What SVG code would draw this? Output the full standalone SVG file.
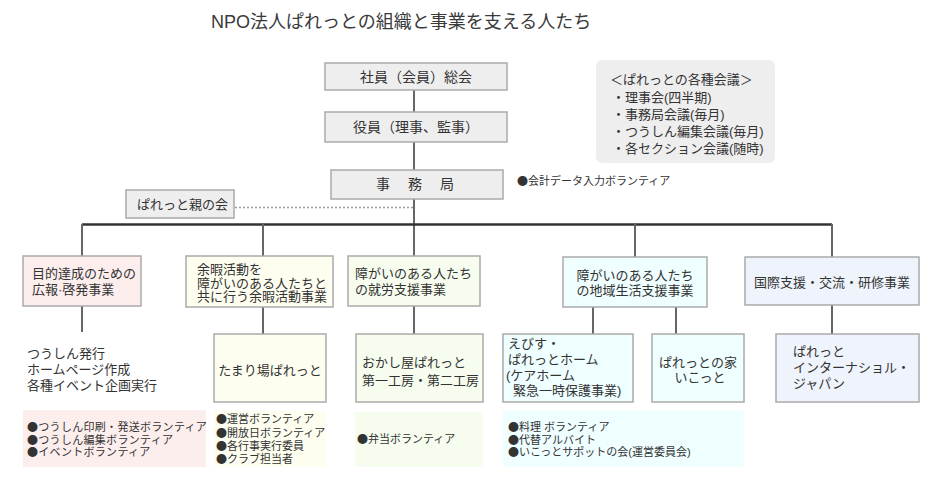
<svg xmlns="http://www.w3.org/2000/svg" width="931" height="502" viewBox="0 0 931 502">
<style>
text{font-family:"Liberation Sans","Noto Sans CJK JP",sans-serif;fill:#333;}
.b{font-family:"Noto Sans CJK JP",sans-serif;}
.t18{font-size:18px;fill:#3a3a3a;}
.t14{font-size:14px;}
.t13{font-size:13px;}
.t11{font-size:11px;}
.mid{text-anchor:middle;}
.top{fill:#eeeeee;stroke:#aaaaaa;stroke-width:1.5;}
.box{stroke:#aaaaaa;stroke-width:1.5;}
.pink{fill:#fdeeee;}
.yel{fill:#fefef0;}
.grn{fill:#f6fdee;}
.cyn{fill:#effefe;}
.lav{fill:#eff3fc;}
.ln{stroke:#666;stroke-width:2;fill:none;}
.bus{stroke:#333;stroke-width:2.5;fill:none;}
.dot{stroke:#999;stroke-width:1.5;stroke-dasharray:2 2;fill:none;}
</style>
<rect width="931" height="502" fill="#fff"/>
<text class="t18" x="211" y="28">NPO法人ぱれっとの組織と事業を支える人たち</text>

<g id="connectors">
<line class="ln" x1="414" y1="90" x2="414" y2="112"/>
<line class="ln" x1="414" y1="142" x2="414" y2="170"/>
<line class="ln" x1="414" y1="199" x2="414" y2="256"/>
<line class="dot" x1="235" y1="207.5" x2="413" y2="207.5"/>
<line class="bus" x1="82" y1="224.5" x2="832" y2="224.5"/>
<line class="ln" x1="82" y1="224" x2="82" y2="256"/>
<line class="ln" x1="263" y1="224" x2="263" y2="256"/>
<line class="ln" x1="635" y1="224" x2="635" y2="257"/>
<line class="ln" x1="832" y1="224" x2="832" y2="257"/>
<line class="ln" x1="82" y1="306" x2="82" y2="332"/>
<line class="ln" x1="263" y1="307" x2="263" y2="334"/>
<line class="ln" x1="414" y1="306" x2="414" y2="334"/>
<line class="ln" x1="593" y1="307" x2="593" y2="334"/>
<line class="ln" x1="676" y1="307" x2="676" y2="334"/>
<line class="ln" x1="832" y1="305" x2="832" y2="334"/>
</g>

<g id="general-meeting">
<rect class="top" x="325" y="63" width="182" height="27"/>
<text class="t14 mid" x="416" y="82">社員（会員）総会</text>
</g>
<g id="officers">
<rect class="top" x="325" y="112" width="182" height="30"/>
<text class="t14 mid" x="416" y="132">役員（理事、監事）</text>
</g>
<g id="secretariat">
<rect class="top" x="331" y="170" width="172" height="29"/>
<text class="t14 mid" x="416" y="189" letter-spacing="2">事　務　局</text>
</g>
<g id="parents">
<rect class="top" x="126" y="190" width="108" height="28"/>
<text class="t13" x="137" y="209">ぱれっと親の会</text>
</g>
<g id="accounting-volunteer">
<text class="t11" x="517" y="185"><tspan class="b">●</tspan>会計データ入力ボランティア</text>
</g>
<g id="meetings">
<rect x="596" y="60" width="179" height="103" rx="6" fill="#eeeeee"/>
<text class="t13" x="610" y="84">＜ぱれっとの各種会議＞<tspan x="612" dy="18">・理事会(四半期)</tspan><tspan x="612" dy="17">・事務局会議(毎月)</tspan><tspan x="612" dy="17">・つうしん編集会議(毎月)</tspan><tspan x="612" dy="17">・各セクション会議(随時)</tspan></text>
</g>

<g id="pr">
<rect class="box pink" x="23" y="256" width="118" height="50"/>
<text class="t13" x="32" y="278">目的達成のための<tspan x="32" dy="16">広報·啓発事業</tspan></text>
</g>
<g id="leisure">
<rect class="box yel" x="186" y="256" width="147" height="51"/>
<text class="t13" x="197" y="274">余暇活動を<tspan x="197" dy="13.5">障がいのある人たちと</tspan><tspan x="197" dy="13.5">共に行う余暇活動事業</tspan></text>
</g>
<g id="employment">
<rect class="box grn" x="348" y="256" width="132" height="50"/>
<text class="t13" x="355" y="278">障がいのある人たち<tspan x="355" dy="16">の就労支援事業</tspan></text>
</g>
<g id="community">
<rect class="box cyn" x="563" y="257" width="144" height="50"/>
<text class="t13 mid" x="635" y="280">障がいのある人たち<tspan x="635" dy="15">の地域生活支援事業</tspan></text>
</g>
<g id="international">
<rect class="box lav" x="745" y="257" width="174" height="48"/>
<text class="t13 mid" x="832" y="287">国際支援・交流・研修事業</text>
</g>

<g id="pr-activities">
<text class="t13" x="27" y="358">つうしん発行<tspan x="27" dy="16">ホームページ作成</tspan><tspan x="27" dy="16">各種イベント企画実行</tspan></text>
</g>
<g id="tamariba">
<rect class="box yel" x="214" y="334" width="112" height="68"/>
<text class="t13 mid" x="270" y="375">たまり場ぱれっと</text>
</g>
<g id="okashiya">
<rect class="box grn" x="356" y="334" width="127" height="68"/>
<text class="t13" x="362" y="367">おかし屋ぱれっと<tspan x="362" dy="18">第一工房・第二工房</tspan></text>
</g>
<g id="ebisu">
<rect class="box cyn" x="503" y="334" width="130" height="68"/>
<text class="t13" x="508" y="348">えびす・<tspan x="508" dy="16">ぱれっとホーム</tspan><tspan x="506" dy="16">(ケアホーム</tspan><tspan x="513" dy="15">緊急一時保護事業)</tspan></text>
</g>
<g id="ikotto">
<rect class="box cyn" x="652" y="334" width="92" height="68"/>
<text class="t13 mid" x="698" y="367">ぱれっとの家<tspan x="700" dy="15">いこっと</tspan></text>
</g>
<g id="pij">
<rect class="box lav" x="776" y="334" width="143" height="68"/>
<text class="t13" x="793" y="356">ぱれっと<tspan x="793" dy="16">インターナショル・</tspan><tspan x="793" dy="16">ジャパン</tspan></text>
</g>

<g id="pr-volunteers">
<rect class="pink" x="23" y="410" width="183" height="57"/>
<text class="t11" x="27" y="431" letter-spacing="0.3"><tspan class="b">●</tspan>つうしん印刷・発送ボランティア<tspan x="27" dy="12.5" class="b">●</tspan>つうしん編集ボランティア<tspan x="27" dy="12.5" class="b">●</tspan>イベントボランティア</text>
</g>
<g id="tamariba-volunteers">
<rect class="yel" x="214" y="411" width="112" height="56"/>
<text class="t11" x="216" y="423"><tspan class="b">●</tspan>運営ボランティア<tspan x="216" dy="13.5" class="b">●</tspan>開放日ボランティア<tspan x="216" dy="13.5" class="b">●</tspan>各行事実行委員<tspan x="216" dy="13" class="b">●</tspan>クラブ担当者</text>
</g>
<g id="okashiya-volunteers">
<rect class="grn" x="355" y="412" width="128" height="55"/>
<text class="t11" x="357" y="443"><tspan class="b">●</tspan>弁当ボランティア</text>
</g>
<g id="community-volunteers">
<rect class="cyn" x="503" y="411" width="241" height="56"/>
<text class="t11" x="508" y="431"><tspan class="b">●</tspan>料理 ボランティア<tspan x="508" dy="12.5" class="b">●</tspan>代替アルバイト<tspan x="508" dy="12.5" class="b">●</tspan>いこっとサポットの会(運営委員会)</text>
</g>
</svg>
